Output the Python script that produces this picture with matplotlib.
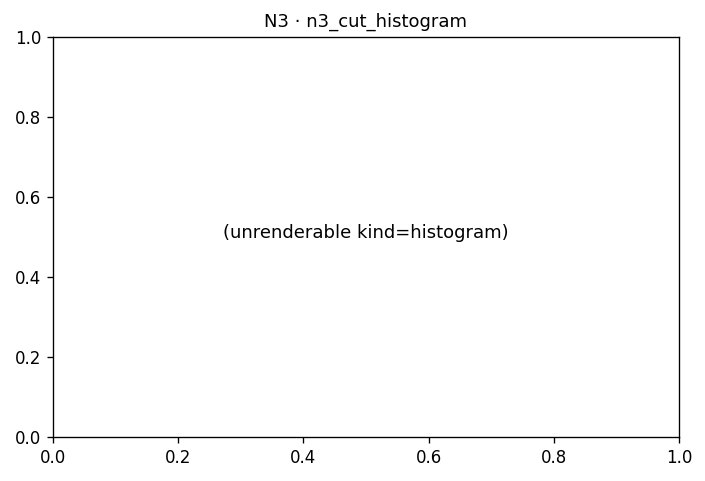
import matplotlib
matplotlib.use('Agg')
import matplotlib.pyplot as plt

title = 'N3 \u00b7 n3_cut_histogram'
message = '(unrenderable kind=histogram)'

fig = plt.figure(figsize=(705 / 120, 481 / 120), dpi=120)
ax = fig.add_axes([53 / 705, 1 - 437 / 481, (679 - 53) / 705, (437 - 37) / 481])
ax.set_xlim(0, 1)
ax.set_ylim(0, 1)
ax.text(0.5, 0.51, message, ha='center', va='center', transform=ax.transAxes, fontsize=10.8)
ax.set_title(title, fontsize=10.8)

fig.savefig('out.png', dpi=120)
